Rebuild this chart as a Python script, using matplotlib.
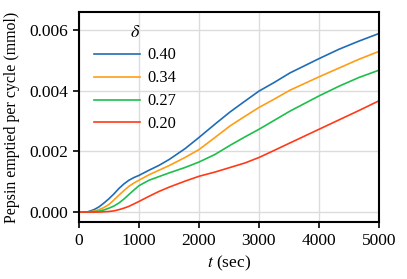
import numpy as np
import matplotlib
matplotlib.use("Agg")
from matplotlib import pyplot as plt

plt.rcParams["font.family"] = ["Liberation Serif", "DejaVu Serif"]
plt.rcParams["mathtext.fontset"] = "stix"
plt.rcParams["font.size"] = 12

# time axis (sec) and pepsin emptied per cycle (mmol)
t = [0, 150, 250, 333, 417, 500, 583, 667, 750, 833, 917, 1000, 1167, 1333, 1500,
     1767, 2000, 2267, 2517, 2767, 3000, 3250, 3517, 4000, 4333, 4667, 5000]
blue_040 = [0, 0.00001, 0.00008, 0.00017, 0.00030, 0.00044, 0.00060, 0.00078, 0.00093,
            0.00105, 0.00114, 0.00121, 0.00138, 0.00154, 0.00173, 0.00209, 0.00246,
            0.00290, 0.00330, 0.00366, 0.00399, 0.00427, 0.00459, 0.00506, 0.00537,
            0.00564, 0.00589]
orange_034 = [0, 0.0, 0.00003, 0.00008, 0.00015, 0.00025, 0.00040, 0.00056, 0.00071,
              0.00085, 0.00096, 0.00105, 0.00123, 0.00138, 0.00153, 0.00180, 0.00206,
              0.00246, 0.00284, 0.00316, 0.00345, 0.00372, 0.00402, 0.00446, 0.00475,
              0.00504, 0.00530]
green_027 = [0, 0.0, 0.00001, 0.00003, 0.00007, 0.00013, 0.00020, 0.00030, 0.00043,
             0.00058, 0.00073, 0.00087, 0.00105, 0.00117, 0.00129, 0.00147, 0.00165,
             0.00190, 0.00220, 0.00248, 0.00273, 0.00302, 0.00333, 0.00383, 0.00415,
             0.00444, 0.00468]
red_020 = [0, 0.0, 0.0, 0.0, 0.00001, 0.00002, 0.00004, 0.00008, 0.00013, 0.00019,
           0.00027, 0.00035, 0.00052, 0.00068, 0.00082, 0.00102, 0.00118, 0.00132,
           0.00147, 0.00162, 0.00180, 0.00203, 0.00228, 0.00273, 0.00304, 0.00335,
           0.00367]
labels = ["0.40", "0.34", "0.27", "0.20"]
colors = ["#1f6db5", "#ff9d14", "#1dbf4c", "#ff3a17"]

fig = plt.figure(figsize=(4.07, 2.79), dpi=100)
ax = fig.add_axes([0.194, 0.204, 0.737, 0.753])

for y, lab, c in zip([blue_040, orange_034, green_027, red_020], labels, colors):
    ax.plot(t, y, color=c, lw=1.2, label=lab)

ax.set_xlim(0, 5000)
ax.set_ylim(-0.00033, 0.0066)
ax.set_xticks([0, 1000, 2000, 3000, 4000, 5000])
ax.set_yticks([0.0, 0.002, 0.004, 0.006])
ax.set_yticklabels(["0.000", "0.002", "0.004", "0.006"])
ax.grid(True, color="#dcdcdc", lw=1)
ax.set_axisbelow(True)
for s in ax.spines.values():
    s.set_linewidth(1.5)
    s.set_color("black")
ax.tick_params(direction="out", length=4, width=1.2, labelsize=12.5)
ax.set_xlabel("$t$ (sec)", fontsize=12.5)
ax.set_ylabel("Pepsin emptied per cycle (mmol)", fontsize=11.4, labelpad=7)

leg = ax.legend(title="$\\delta$", frameon=False, loc="upper left", fontsize=11.8,
                handlelength=2.8, handletextpad=0.45, labelspacing=0.42,
                bbox_to_anchor=(0.0, 1.015))
leg.get_title().set_fontsize(13)

fig.savefig("out.png", dpi=100)
